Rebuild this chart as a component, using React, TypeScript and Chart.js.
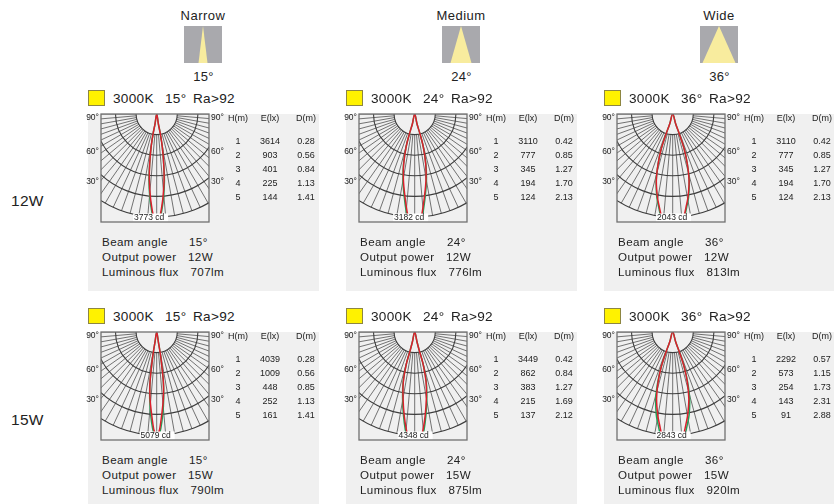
import React, { useEffect, useRef } from "react";
import { Chart, registerables } from "chart.js";

Chart.register(...registerables);

const FONT = '"Liberation Sans", Arial, sans-serif';

const beamNames = ["Narrow", "Medium", "Wide"];
const beamAngles = [15, 24, 36];
const powers = ["12W", "15W"];
const heights = [1, 2, 3, 4, 5];
const angleLabels = ["30°", "60°", "90°"];

const illum12W15 = [3614, 903, 401, 225, 144];
const illum12W24 = [3110, 777, 345, 194, 124];
const illum12W36 = [3110, 777, 345, 194, 124];
const illum15W15 = [4039, 1009, 448, 252, 161];
const illum15W24 = [3449, 862, 383, 215, 137];
const illum15W36 = [2292, 573, 254, 143, 91];
const diam12W15 = ["0.28", "0.56", "0.84", "1.13", "1.41"];
const diam12W24 = ["0.42", "0.85", "1.27", "1.70", "2.13"];
const diam12W36 = ["0.42", "0.85", "1.27", "1.70", "2.13"];
const diam15W15 = ["0.28", "0.56", "0.85", "1.13", "1.41"];
const diam15W24 = ["0.42", "0.84", "1.27", "1.69", "2.12"];
const diam15W36 = ["0.57", "1.15", "1.73", "2.31", "2.88"];
const peaks = [3773, 3182, 2043, 5079, 4348, 2843];
const fluxes = [707, 776, 813, 790, 875, 920];

// polar curves: half-angle (deg) and radius (in grid rings) of each sampled point
const ang12W15 = [9.5, 10.4, 9.6, 8, 6.3, 4.3, 2.6, 1.7];
const red12W15 = [0.49, 0.99, 1.64, 2.45, 3.26, 4.06, 4.7, 5.02];
const grnAng12W15 = [9.5, 10.4, 9.6, 8, 6.6, 4.7, 3.0, 2.0];
const ang12W24 = [13.1, 14.9, 14.6, 12.4, 9.6, 6.6, 4.5, 3.5];
const red12W24 = [0.5, 1.0, 1.67, 2.49, 3.28, 4.08, 4.74, 5.03];
const grnAng12W24 = [13.1, 14.9, 14.6, 12.6, 10.0, 7.1, 5.0, 4.0];
const ang12W36 = [16.7, 18.4, 18.3, 16.3, 13.8, 10.4, 8.1, 6.7];
const red12W36 = [0.51, 1.02, 1.75, 2.53, 3.33, 4.11, 4.58, 4.91];
const grnAng12W36 = [16.7, 18.4, 18.3, 16.3, 13.9, 10.8, 8.5, 7.1];
const ang15W15 = [9.5, 9.5, 8.8, 7.6, 5.7, 3.4, 1.8, 0.9];
const red15W15 = [0.49, 0.99, 1.47, 2.45, 3.25, 4.05, 4.7, 4.94];
const grnAng15W15 = [9.5, 9.5, 8.8, 7.6, 6.0, 4.1, 2.4, 1.5];
const ang15W24 = [13.1, 14.0, 14.6, 12.8, 9.9, 7.1, 4.9, 3.7];
const red15W24 = [0.5, 1.0, 1.67, 2.5, 3.29, 4.1, 4.76, 5.05];
const grnAng15W24 = [13.1, 14.0, 14.6, 13.0, 10.3, 7.6, 5.5, 4.3];
const ang15W36 = [16.7, 18.4, 18.3, 16.3, 13.6, 10.2, 8.0, 6.6];
const red15W36 = [0.51, 1.02, 1.75, 2.53, 3.33, 4.1, 4.56, 4.9];
const grnAng15W36 = [16.7, 18.4, 18.3, 16.6, 14.3, 11.2, 8.9, 7.4];

const illums = [illum12W15, illum12W24, illum12W36, illum15W15, illum15W24, illum15W36];
const diams = [diam12W15, diam12W24, diam12W36, diam15W15, diam15W24, diam15W36];
const curveAngles = [ang12W15, ang12W24, ang12W36, ang15W15, ang15W24, ang15W36];
const curveRadii = [red12W15, red12W24, red12W36, red15W15, red15W24, red15W36];
const greenAngles = [grnAng12W15, grnAng12W24, grnAng12W36, grnAng15W15, grnAng15W24, grnAng15W36];

const RING_PX = 20.6;
const tickDepths = [-3.3, -1.84, -0.19];
const labelOffsets = [-0.37, -0.27, -0.03, -0.05, -0.05, -0.05];

function polarToXY(angles: number[], radii: number[], side: number) {
  return angles.map((a, i) => ({
    x: side * radii[i] * Math.sin((a * Math.PI) / 180),
    y: -radii[i] * Math.cos((a * Math.PI) / 180),
  }));
}

function closedCurve(angles: number[], radii: number[]) {
  return [...polarToXY(angles, radii, -1).reverse(), { x: 0, y: 0 }, ...polarToXY(angles, radii, 1)];
}

const polarGrid = {
  id: "polarGrid",
  beforeDatasetsDraw(chart: any) {
    const { ctx, chartArea: a, scales } = chart;
    const cx = scales.x.getPixelForValue(0);
    const cy = scales.y.getPixelForValue(0);
    const unit = scales.x.getPixelForValue(1) - cx;
    ctx.save();
    ctx.beginPath();
    ctx.rect(a.left, a.top, a.right - a.left, a.bottom - a.top);
    ctx.clip();
    ctx.strokeStyle = "#505050";
    ctx.lineWidth = 0.8;
    for (let d = -90; d <= 90; d += 5) {
      const t = (d * Math.PI) / 180;
      ctx.beginPath();
      ctx.moveTo(cx + unit * Math.sin(t), cy + unit * Math.cos(t));
      ctx.lineTo(cx + 5 * unit * Math.sin(t), cy + 5 * unit * Math.cos(t));
      ctx.stroke();
    }
    ctx.strokeStyle = "#3c3c3c";
    ctx.lineWidth = 1.1;
    for (let r = 1; r <= 5; r++) {
      ctx.beginPath();
      ctx.arc(cx, cy, r * unit, 0, Math.PI);
      ctx.stroke();
    }
    ctx.restore();
  },
  afterDatasetsDraw(chart: any, _args: any, opts: any) {
    const { ctx, chartArea: a, scales } = chart;
    const mid = scales.x.getPixelForValue(opts.labelX);
    const yy = a.bottom - 4.5;
    ctx.save();
    ctx.fillStyle = "#ffffff";
    ctx.fillRect(mid - 16, yy - 4, 35, 8);
    ctx.fillStyle = "#222222";
    ctx.font = `8.5px ${FONT}`;
    ctx.textAlign = "center";
    ctx.textBaseline = "middle";
    ctx.fillText(opts.label, mid, yy);
    ctx.strokeStyle = "#707070";
    ctx.lineWidth = 1.3;
    ctx.strokeRect(a.left, a.top, a.right - a.left, a.bottom - a.top);
    ctx.restore();
  },
};

function sideAxis(position: string, width: number) {
  return {
    position,
    min: -108 / RING_PX,
    max: 0,
    grid: { display: false, drawTicks: false },
    border: { display: false },
    afterBuildTicks(axis: any) {
      axis.ticks = tickDepths.map((value) => ({ value }));
    },
    afterFit(axis: any) {
      axis.width = width;
      axis.paddingTop = 0;
      axis.paddingBottom = 0;
    },
    ticks: {
      autoSkip: false,
      padding: 2,
      color: "#222222",
      font: { family: FONT, size: 8.5 },
      callback: (_v: any, i: number) => angleLabels[i],
    },
  };
}

function Photometric({ index, left, top }: { index: number; left: number; top: number }) {
  const ref = useRef<HTMLCanvasElement>(null);
  useEffect(() => {
    const chart = new Chart(ref.current as HTMLCanvasElement, {
      type: "scatter",
      data: {
        datasets: [
          {
            label: "C0",
            data: closedCurve(curveAngles[index], curveRadii[index]),
            borderColor: "#dc1f2c",
            borderWidth: 1.5,
            showLine: true,
            pointRadius: 0,
            tension: 0.35,
            fill: false,
          },
          {
            label: "C90",
            data: closedCurve(greenAngles[index], curveRadii[index]),
            borderColor: "#1fa35a",
            borderWidth: 1.5,
            showLine: true,
            pointRadius: 0,
            tension: 0.35,
            fill: false,
          },
        ],
      },
      options: {
        animation: false,
        responsive: false,
        devicePixelRatio: 1,
        layout: { padding: { top: 6, bottom: 4, left: 0, right: 0 } },
        plugins: {
          legend: { display: false },
          tooltip: { enabled: false },
          polarGrid: { label: `${peaks[index]} cd`, labelX: labelOffsets[index] },
        } as any,
        scales: {
          x: { display: false, min: -55.7 / RING_PX, max: 52.3 / RING_PX },
          y: sideAxis("left", 15) as any,
          yR: sideAxis("right", 17) as any,
        },
      },
      plugins: [polarGrid],
    } as any);
    return () => chart.destroy();
  }, [index]);
  return <canvas ref={ref} width={140} height={118} style={{ position: "absolute", left, top, width: 140, height: 118 }} />;
}

const abs = (left: number, top: number, extra: any = {}) => ({
  position: "absolute" as const,
  left,
  top,
  whiteSpace: "nowrap" as const,
  color: "#222",
  ...extra,
});

function Centered({ x, y, size, children, spacing = 0 }: any) {
  return (
    <div style={abs(x - 60, y - 10, { width: 120, height: 20, lineHeight: "20px", textAlign: "center", fontSize: size, letterSpacing: spacing })}>
      {children}
    </div>
  );
}

function Panel({ row, col }: { row: number; col: number }) {
  const index = row * 3 + col;
  const dx = col * 258;
  const dy = row * 218;
  const ang = beamAngles[col];
  const headStyle = { height: 20, lineHeight: "20px", fontSize: 13.6, letterSpacing: 0.3 };
  return (
    <>
      <div style={abs(88 + dx, 114 + dy, { width: col === 2 ? 230 : 231, height: row === 0 ? 177 : 172, background: "#f0f0f0" })} />
      <div style={abs(88 + dx, 90 + dy, { width: 15, height: 14, background: "#fff200", border: "1px solid #8d8642" })} />
      <div style={abs(113 + dx, 88.5 + dy, headStyle)}>3000K</div>
      <div style={abs(165 + dx, 88.5 + dy, headStyle)}>{ang}°</div>
      <div style={abs(193 + dx, 88.5 + dy, headStyle)}>Ra&gt;92</div>
      <Photometric index={index} left={86 + dx} top={108 + dy} />
      <Centered x={238 + dx} y={118 + dy} size={9}>H(m)</Centered>
      <Centered x={270 + dx} y={118 + dy} size={9}>E(lx)</Centered>
      <Centered x={306 + dx} y={118 + dy} size={9}>D(m)</Centered>
      {heights.map((h, i) => (
        <React.Fragment key={h}>
          <Centered x={238 + dx} y={140.5 + i * 14.1 + dy} size={9}>{h}</Centered>
          <Centered x={270 + dx} y={140.5 + i * 14.1 + dy} size={9}>{illums[index][i]}</Centered>
          <Centered x={306 + dx} y={140.5 + i * 14.1 + dy} size={9}>{diams[index][i]}</Centered>
        </React.Fragment>
      ))}
      {[
        ["Beam angle", `${ang}°`, 189],
        ["Output power", powers[row], 188],
        ["Luminous flux", `${fluxes[index]}lm`, 190.5],
      ].map(([name, value, vx], i) => (
        <React.Fragment key={name as string}>
          <div style={abs(102 + dx, 232 + dy + i * 15, { height: 20, lineHeight: "20px", fontSize: 11.6, letterSpacing: 0.4 })}>{name}</div>
          <div style={abs((vx as number) + dx, 232 + dy + i * 15, { height: 20, lineHeight: "20px", fontSize: 11.6, letterSpacing: 0.4 })}>{value}</div>
        </React.Fragment>
      ))}
    </>
  );
}

function BeamIcon({ col }: { col: number }) {
  const cx = 203 + col * 258;
  const half = [4.5, 10.5, 16.5][col];
  const w = 38;
  return (
    <>
      <Centered x={cx} y={16} size={13} spacing={0.5}>{beamNames[col]}</Centered>
      <div style={abs(cx - 19, 26, { width: w, height: 37, background: "#a9a9ad" })} />
      <div
        style={abs(cx - 19, 26, {
          width: w,
          height: 37,
          background: "#f8ec9e",
          clipPath: `polygon(50% 0, ${19 + half}px 100%, ${19 - half}px 100%)`,
        })}
      />
      <Centered x={cx + 0.5} y={77} size={13} spacing={0.3}>{beamAngles[col]}°</Centered>
    </>
  );
}

export default function App() {
  return (
    <div style={{ position: "absolute", left: 0, top: 0, width: 834, height: 504, overflow: "hidden", background: "#fff", fontFamily: FONT }}>
      {[0, 1, 2].map((c) => (
        <BeamIcon key={c} col={c} />
      ))}
      {[0, 1].map((r) => [0, 1, 2].map((c) => <Panel key={`${r}-${c}`} row={r} col={c} />))}
      <div style={abs(11, 191, { height: 20, lineHeight: "20px", fontSize: 15.5, letterSpacing: 0.3 })}>{powers[0]}</div>
      <div style={abs(11, 410, { height: 20, lineHeight: "20px", fontSize: 15.5, letterSpacing: 0.3 })}>{powers[1]}</div>
    </div>
  );
}
